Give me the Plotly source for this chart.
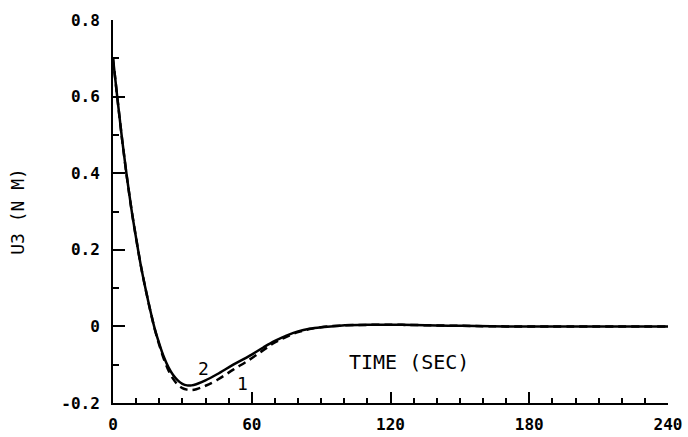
import plotly.graph_objects as go

# Time (s) and control torque U3 (N M)
t_solid = [0, 2, 4, 6, 8, 10, 12, 14, 16, 18, 20, 22, 24, 26, 28, 30, 32, 34, 36, 40, 45,
           52, 59, 65, 70, 75, 80, 85, 90, 98, 110, 125, 145, 170, 240]
u_solid = [0.70, 0.59, 0.485, 0.39, 0.305, 0.23, 0.16, 0.10, 0.045, -0.005, -0.045, -0.08,
           -0.107, -0.127, -0.141, -0.150, -0.154, -0.154, -0.151, -0.141, -0.125, -0.10,
           -0.077, -0.055, -0.038, -0.024, -0.013, -0.006, -0.002, 0.002, 0.004, 0.004,
           0.002, 0.0, 0.0]

t_dash = [0, 2, 4, 6, 8, 10, 12, 14, 16, 18, 20, 22, 24, 26, 28, 30, 32, 34, 36, 40, 45,
          52, 59, 65, 70, 75, 80, 85, 90, 98, 110, 125, 145, 170, 240]
u_dash = [0.70, 0.59, 0.485, 0.39, 0.305, 0.23, 0.16, 0.10, 0.045, -0.006, -0.048, -0.085,
          -0.115, -0.137, -0.152, -0.161, -0.165, -0.166, -0.164, -0.155, -0.14, -0.113,
          -0.087, -0.062, -0.042, -0.027, -0.015, -0.007, -0.002, 0.002, 0.004, 0.004,
          0.002, 0.0, 0.0]

x_tickvals = [0, 60, 120, 180, 240]
x_ticktext = ["0", "60", "120", "180", "240"]
y_tickvals = [-0.2, 0, 0.2, 0.4, 0.6, 0.8]
y_ticktext = ["-0.2", "0", "0.2", "0.4", "0.6", "0.8"]

curve_labels = ["2", "1"]
label_pos_t = [39, 56]
label_pos_u = [-0.11, -0.148]

MONO = "DejaVu Sans Mono"

fig = go.Figure()
fig.add_trace(go.Scatter(x=t_dash, y=u_dash, mode="lines", line=dict(color="black", width=2.5, dash="8px,5px", shape="spline", smoothing=1), showlegend=False))
fig.add_trace(go.Scatter(x=t_solid, y=u_solid, mode="lines", line=dict(color="black", width=2.5, shape="spline", smoothing=1), showlegend=False))

for txt, tx, uy in zip(curve_labels, label_pos_t, label_pos_u):
    fig.add_annotation(x=tx, y=uy, text=txt, showarrow=False,
                       font=dict(family=MONO, size=18, color="black"))

fig.add_annotation(x=128, y=-0.094, text="TIME (SEC)", showarrow=False,
                   font=dict(family=MONO, size=20, color="black"))

fig.update_xaxes(range=[0, 240], tickvals=x_tickvals, ticktext=x_ticktext,
                 ticks="inside", ticklen=11, tickwidth=2, tickcolor="black",
                 minor=dict(dtick=10, tick0=0, ticks="inside", ticklen=5, tickwidth=1.5, tickcolor="black"),
                 showline=True, linewidth=2, linecolor="black", showgrid=False, zeroline=False,
                 tickfont=dict(family=MONO, size=16, color="black", weight="bold"),
                 ticklabelstandoff=6, automargin=False)
fig.update_yaxes(range=[-0.2, 0.8], tickvals=y_tickvals, ticktext=y_ticktext,
                 ticks="inside", ticklen=12, tickwidth=2, tickcolor="black",
                 minor=dict(dtick=0.1, tick0=0, ticks="inside", ticklen=6, tickwidth=2, tickcolor="black"),
                 showline=True, linewidth=2, linecolor="black", showgrid=False, zeroline=False,
                 tickfont=dict(family=MONO, size=16, color="black", weight="bold"),
                 ticklabelstandoff=8, automargin=False,
                 title=dict(text="U3 (N M)", font=dict(family=MONO, size=18, color="black"), standoff=32))

fig.update_layout(width=688, height=437, margin=dict(l=113, r=20, t=20, b=34),
                  plot_bgcolor="white", paper_bgcolor="white")

fig.write_html("out.html")
